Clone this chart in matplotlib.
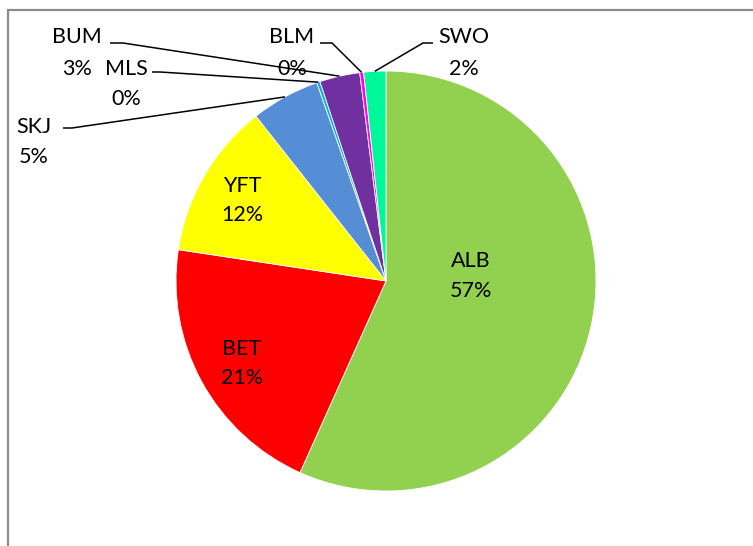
import numpy as np
import matplotlib.pyplot as plt
from matplotlib.patches import Rectangle

# data (share by species)
species = ["ALB", "BET", "YFT", "SKJ", "MLS", "BUM", "BLM", "SWO"]
share = [56.8, 20.7, 12.0, 5.3, 0.25, 3.1, 0.3, 1.7]
colors = ["#92D050", "#FF0000", "#FFFF00", "#558ED5", "#00B0F0",
          "#7030A0", "#FF00FF", "#00F89A"]

plt.rcParams['font.family'] = ['Lato', 'DejaVu Sans']
W, H = 753, 546

fig = plt.figure(figsize=(W / 100, H / 100), dpi=100)
ax = fig.add_axes([0, 0, 1, 1])

cx, cy, r = 386, H - 281, 210
wedges, _ = ax.pie(share, colors=colors, startangle=90, counterclock=False,
                   center=(cx, cy), radius=r,
                   wedgeprops=dict(edgecolor="white", linewidth=0.6))

ax.set_xlim(0, W)
ax.set_ylim(0, H)
ax.set_aspect("equal")
ax.set_axis_off()

# chart frame (only top and left edge visible)
ax.add_patch(Rectangle((8, -20), 900, H - 10 + 20, fill=False,
                       edgecolor="#8C8C8C", linewidth=1.6, clip_on=False))

pct = [f"{round(v / sum(share) * 100)}%" for v in share]
fs = 15.5

# label layout in pixels from top: x centre, baseline of name, baseline of %
labels_xy = {
    "ALB": (471, 267, 297),
    "BET": (242, 355, 384),
    "YFT": (242, 192, 221),
    "SKJ": (34, 133, 163),
    "MLS": (126, 75, 105),
    "BUM": (77, 43, 75),
    "BLM": (292, 43, 75),
    "SWO": (464, 43, 75),
}
# leader lines for outside labels: start and elbow
leaders = {
    "SKJ": ((63, 128), (72, 128)),
    "MLS": ((152, 72), (160, 72)),
    "BUM": ((110, 43), (123, 43)),
    "BLM": ((320, 43), (332, 43)),
    "SWO": ((433, 43), (423, 43)),
}

for name, w, p in zip(species, wedges, pct):
    x, y1, y2 = labels_xy[name]
    ax.text(x, H - y1, name, ha="center", va="baseline", fontsize=fs)
    ax.text(x, H - y2, p, ha="center", va="baseline", fontsize=fs)
    if name in leaders:
        (sx, sy), (ex, ey) = leaders[name]
        mid = np.deg2rad((w.theta1 + w.theta2) / 2)
        px, py = cx + r * np.cos(mid), cy + r * np.sin(mid)
        ax.plot([sx, ex, px], [H - sy, H - ey, py], color="black", lw=1.1,
                solid_capstyle="butt")

fig.savefig("out.png", dpi=100)
